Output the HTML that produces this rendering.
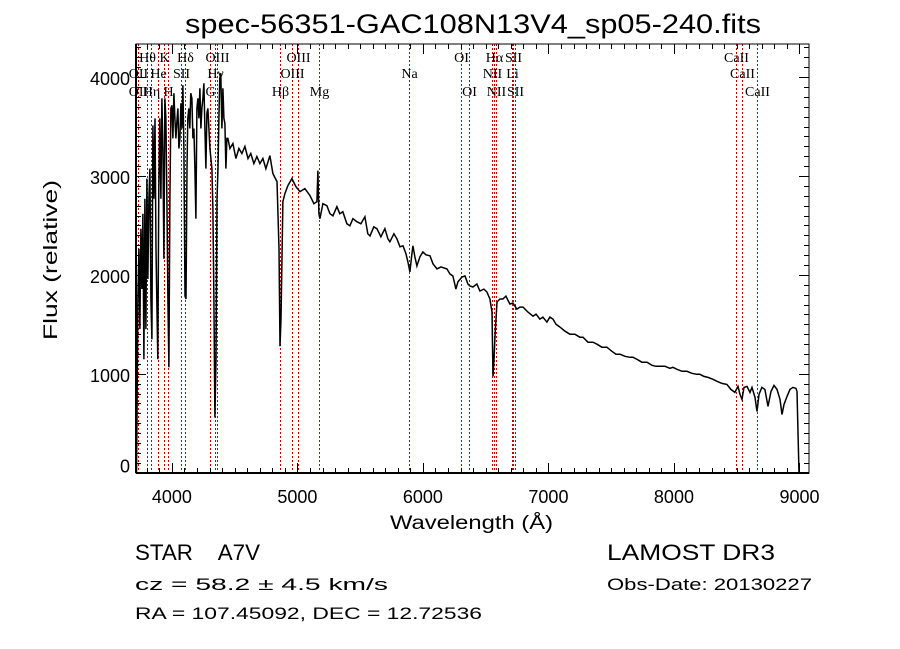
<!DOCTYPE html>
<html><head><meta charset="utf-8"><style>
html,body{margin:0;padding:0;background:#fff}
svg{display:block}
text{font-family:"Liberation Sans",sans-serif;fill:#000}
.ser{font-family:"Liberation Serif",serif}
</style></head><body>
<svg id="chart" width="900" height="649" viewBox="0 0 900 649" xmlns="http://www.w3.org/2000/svg">
<rect width="900" height="649" fill="#fff"/>
<text x="185" y="33" font-size="27" textLength="576" lengthAdjust="spacingAndGlyphs">spec-56351-GAC108N13V4_sp05-240.fits</text>
<g id="lines"></g>
<g id="labels"></g>
<path id="spec" fill="none" stroke="#000" stroke-width="1.5"/>
<g id="axes"></g>
<text x="390" y="529" font-size="19" textLength="163" lengthAdjust="spacingAndGlyphs">Wavelength (Å)</text>
<text transform="translate(57,340) rotate(-90)" font-size="19" textLength="160" lengthAdjust="spacingAndGlyphs">Flux (relative)</text>
<text x="135" y="560" font-size="22" textLength="125" lengthAdjust="spacingAndGlyphs">STAR&#160;&#160;&#160;&#160;A7V</text>
<text x="135" y="590" font-size="17" textLength="253" lengthAdjust="spacingAndGlyphs">cz = 58.2 ± 4.5 km/s</text>
<text x="135" y="619" font-size="17" textLength="347" lengthAdjust="spacingAndGlyphs">RA = 107.45092, DEC =  12.72536</text>
<text x="607" y="560" font-size="22" textLength="168" lengthAdjust="spacingAndGlyphs">LAMOST DR3</text>
<text x="607" y="590" font-size="17" textLength="205" lengthAdjust="spacingAndGlyphs">Obs-Date: 20130227</text>
</svg>
<script>
const wavelengths=[3718,3721,3729,3737,3745,3753,3761,3769,3777,3785,3793,3801,3809,3817,3825,3833,3841,3849,3857,3865,3873,3880,3888,3896,3904,3912,3920,3928,3936,3944,3952,3960,3968,3976,3984,3992,4000,4008,4016,4024,4032,4040,4048,4056,4064,4072,4080,4088,4096,4104,4112,4120,4127,4135,4143,4151,4159,4167,4175,4183,4191,4199,4207,4215,4223,4231,4239,4247,4255,4263,4271,4279,4287,4295,4303,4311,4319,4327,4335,4343,4351,4359,4367,4375,4382,4390,4398,4406,4414,4422,4430,4438,4446,4462,4486,4510,4534,4558,4582,4606,4629,4653,4677,4701,4725,4749,4781,4805,4837,4853,4861,4869,4884,4900,4924,4956,4988,5020,5060,5100,5131,5155,5163,5171,5179,5203,5235,5259,5283,5315,5338,5362,5394,5418,5442,5474,5506,5538,5561,5578,5609,5633,5665,5697,5721,5737,5769,5793,5817,5841,5865,5880,5896,5912,5920,5936,5952,5976,6000,6024,6056,6080,6112,6143,6191,6215,6239,6263,6279,6311,6335,6358,6374,6398,6430,6454,6486,6510,6534,6550,6558,6566,6574,6590,6614,6637,6661,6693,6717,6749,6773,6797,6837,6877,6901,6932,6956,6988,7012,7036,7060,7092,7132,7171,7211,7251,7275,7315,7355,7387,7426,7466,7506,7538,7570,7610,7650,7674,7706,7745,7785,7825,7857,7889,7929,7968,7992,8024,8064,8104,8143,8183,8207,8239,8271,8311,8343,8382,8422,8454,8486,8510,8526,8542,8558,8582,8606,8622,8646,8662,8678,8701,8725,8749,8773,8797,8821,8845,8861,8877,8901,8925,8948,8972,8980,8988,8996];
const fluxes=[0,437,1756,2264,1452,2467,1858,2619,1147,2771,1452,2974,1959,2771,3075,1756,1350,3512,2771,3583,2264,1756,1147,2872,3583,2771,3786,3278,2162,3786,3583,2771,1756,1066,2771,3684,3715,3380,3837,3583,3380,3553,3684,3278,3380,3735,3481,3918,3278,1786,1756,3075,3583,3684,3481,3837,3786,3380,3481,3075,2568,3684,3786,3583,3887,3481,3684,3786,3938,3481,3075,3634,3684,3481,3278,3177,3075,2669,1756,558,1147,2771,3075,3634,3989,4040,3481,3887,3583,3532,3075,3380,3380,3278,3329,3177,3278,3228,3299,3177,3228,3126,3197,3126,3177,3075,3207,3025,2944,2264,1279,1553,2741,2822,2903,2974,2893,2842,2873,2802,2720,2741,3055,2619,2568,2720,2700,2619,2598,2690,2619,2639,2517,2497,2568,2538,2517,2588,2416,2395,2487,2467,2385,2467,2365,2335,2416,2365,2284,2294,2213,2132,2030,2213,2294,2182,2091,2182,2233,2203,2193,2111,2061,2081,2061,2010,1989,1857,1929,1979,1989,1908,1888,1878,1908,1837,1857,1827,1756,1624,974,1147,1380,1726,1756,1756,1786,1705,1716,1654,1675,1675,1624,1583,1604,1553,1573,1523,1573,1553,1502,1472,1431,1401,1401,1370,1370,1320,1320,1299,1269,1269,1228,1198,1198,1177,1167,1167,1147,1117,1117,1086,1076,1076,1076,1056,1066,1046,1025,1025,1005,995,995,974,964,944,924,903,893,842,812,873,792,741,863,873,812,863,761,619,792,863,842,670,822,883,842,741,589,690,771,842,863,853,822,406,0];
const xTicks=[4000,5000,6000,7000,8000,9000];
const xTickLabels=["4000","5000","6000","7000","8000","9000"];
const yTicks=[0,1000,2000,3000,4000];
const yTickLabels=["0","1000","2000","3000","4000"];
const lineWaves=[3798,3934,4102,4363,5007,6300,6563,6717,8498,3727,3889,4072,4340,4959,5893,6548,6708,8542,3729,3835,3968,4304,4861,5175,6364,6583,6731,8662];
const lineNames=["Hθ","K","Hδ","OIII","OIII","OI","Hα","SII","CaII","OII","He","SII","Hγ","OIII","Na","NII","Li","CaII","OII","Hη","H","G","Hβ","Mg","OI","NII","SII","CaII"];
const lineRows=[0,0,0,0,0,0,0,0,0,1,1,1,1,1,1,1,1,1,2,2,2,2,2,2,2,2,2,2];

const L=136,R=809,T=44,B=473;
const X0=3714,X1=9076,Y0=-3,Y1=4335;
function sx(w){return L+(w-X0)/(X1-X0)*(R-L);}
function sy(f){return B-(f-Y0)/(Y1-Y0)*(B-T);}
const NS="http://www.w3.org/2000/svg";
function mk(tag,parent,attrs){const e=document.createElementNS(NS,tag);for(const k in attrs)e.setAttribute(k,attrs[k]);parent.appendChild(e);return e;}

const lg=document.getElementById('lines'), lb=document.getElementById('labels');
const rowY=[62,78,96];
lineWaves.forEach((w,i)=>{
  const x=Math.round(sx(w))+0.5;
  const ln=mk('line',lg,{x1:x,x2:x,y1:T,y2:B,stroke:'#c00000','stroke-width':1,'stroke-dasharray':'2,2'});
  
  
  const t=mk('text',lb,{x:x,y:rowY[lineRows[i]],'font-size':14,'text-anchor':'middle','class':'ser'});
  t.textContent=lineNames[i];
  
  
});

let d='';
wavelengths.forEach((w,i)=>{d+=(i?'L':'M')+sx(w).toFixed(1)+' '+sy(fluxes[i]).toFixed(1);});
document.getElementById('spec').setAttribute('d',d);

const ax=document.getElementById('axes');
const fr=mk('rect',ax,{x:L,y:T,width:R-L,height:B-T,fill:'none',stroke:'#000','stroke-width':1});


mk('line',ax,{x1:L,x2:R,y1:B,y2:B,stroke:'#000','stroke-width':2});
mk('line',ax,{x1:L,x2:L,y1:T,y2:B,stroke:'#000','stroke-width':2});
let tp='';
for(let w=3800;w<=X1;w+=100){const x=Math.round(sx(w))+0.5;const len=(w%1000===0)?10:5;tp+=`M${x} ${B}v${-len}M${x} ${T}v${len}`;}
for(let f=0;f<=Y1;f+=100){const y=Math.round(sy(f))+0.5;const len=(f%1000===0)?10:5;tp+=`M${L} ${y}h${len}M${R} ${y}h${-len}`;}
const tk=mk('path',ax,{d:tp,stroke:'#000','stroke-width':1,fill:'none'});


xTicks.forEach((w,i)=>{
  const t=mk('text',ax,{x:sx(w),y:B+30,'font-size':18,'text-anchor':'middle'});
  t.textContent=xTickLabels[i];
  
  
});
yTicks.forEach((f,i)=>{
  const t=mk('text',ax,{x:L-6,y:sy(f)+(f===0?0:8),'font-size':18,'text-anchor':'end'});
  t.textContent=yTickLabels[i];
  
  
});
</script>
</body></html>
